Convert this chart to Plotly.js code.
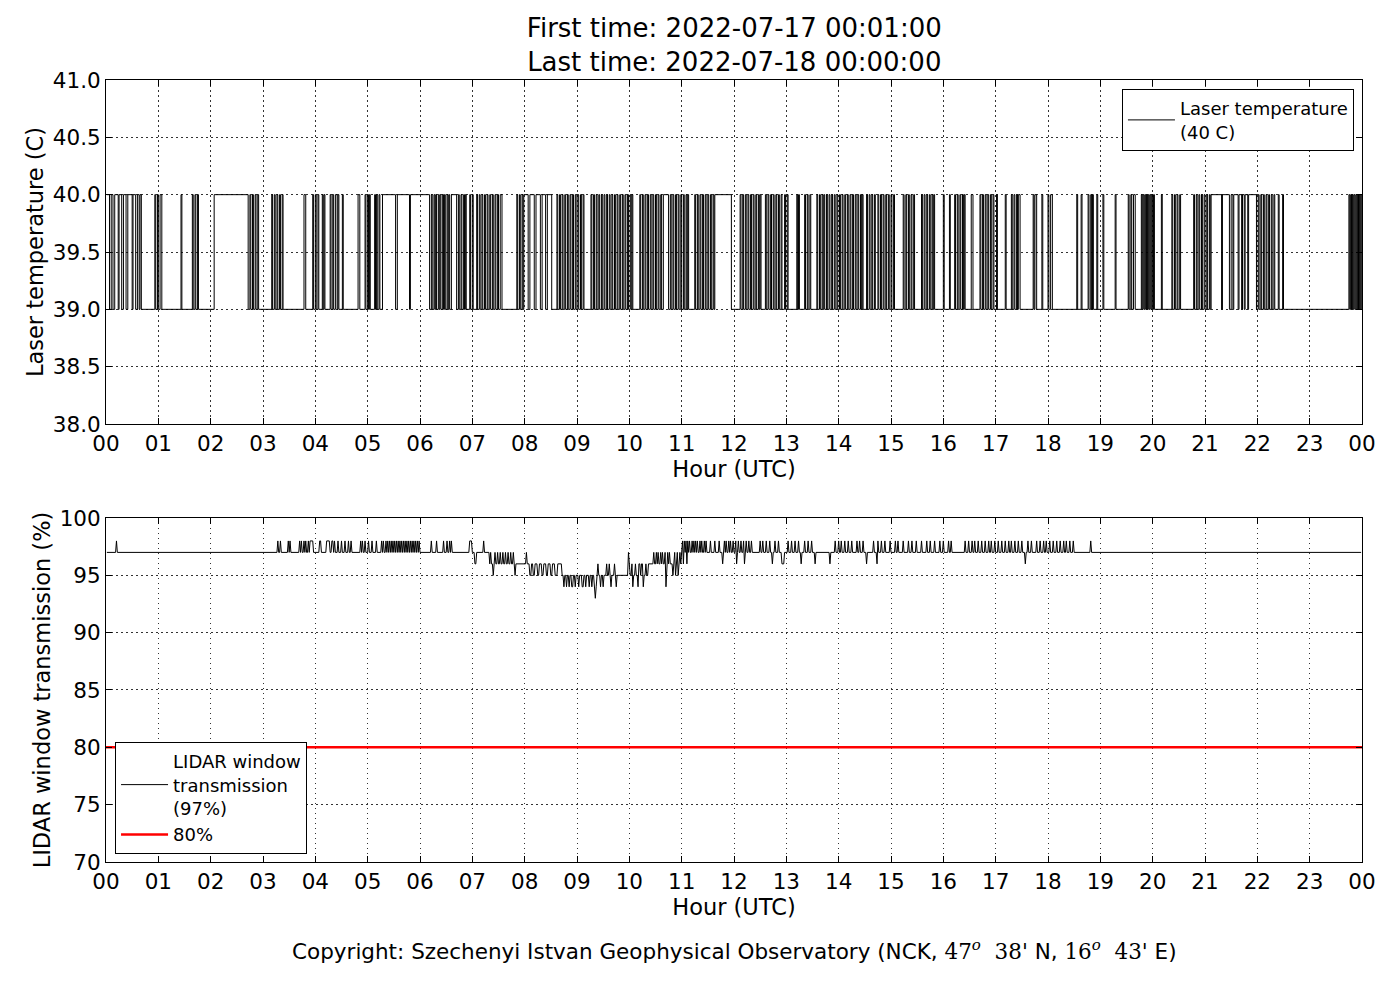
<!DOCTYPE html>
<html>
<head>
<meta charset="utf-8">
<script src="https://cdn.plot.ly/plotly-3.0.1.min.js"></script>
<style>
  body { margin: 0; background: #fff; }
  #chart { width: 1400px; height: 1000px; }
</style>
</head>
<body>
<div id="chart"></div>
<script>
// minutes after 00:00 UTC where the laser reads 40 C (39 C in between)
let laserHigh = [
  [1,4],[6,8],[10,14],[15,18],[20,23],[25,30],[31,34],[36,38],[39,40.5],
  [56,57],[59,60],[62,64],[86,87],[99,100],[102,103],[105,106],
  [124,163],[165,166],[168,169],[171,172],[174,175],
  [190,191],[193,194],[196,197],[199,200],[202,203],
  [227,229],[237,238],[240,241],[243,244],
  [248,249],[250,251],[257,258],[260,261],[263,265],[266,267],[271,272],
  [289,291],[297,298],[300,301],[302,303],[308,309],[310,311],[313,314],
  [317,332],[334,348],[349,371],
  [373,374],[376,377],[378,379],[381,382],[383,384],[386,387],[388,389],[391,392],[393,394],
  [396,402],[404,405],[407,408],[410,411],[412,413],[417,418],[420,421],
  [425,426],[428,429],[431,432],[434,435],[437,438],[440,441],[443,444],[446,447],[449,450],[452,454],
  [471,472],[474,475],[477,478],[479,484],[486,491],[493,498],[500,504],[506,511],
  [517,518],[520,521],[523,524],[526,527],[529,530],[532,533],[535,536],[538,539],[541,542],[544,545],[547,548],
  [556,557],[559,560],[562,563],[565,566],[568,569],[571,572],[574,575],[577,578],[580,581],
  [583,584],[586,587],[589,590],[592,593],[595,596],[598,599],[601,602],[603,604],
  [612,613],[615,616],[618,619],[621,622],[624,625],[627,628],[630,631],[633,634],[636,637],
  [639,645],[647,648],[650,651],[653,654],[656,657],[659,660],[662,663],[665,666],[667,668],
  [675,676],[678,679],[681,682],[684,685],[687,688],[690,691],[693,694],[696,697],[698,717],
  [727,728],[730,731],[733,734],[736,737],[739,740],[742,743],[745,746],[748,749],[750,751],
  [756,757],[759,760],[762,763],[765,766],[768,769],[771,772],[774,775],[778,779],[781,782],
  [792,793],[794,795],[801,802],[804,805],[807,808],[815,816],[818,819],[821,822],[823,824],
  [826,827],[829,830],[832,833],[835,836],[838,839],[841,842],[844,845],[847,848],
  [850,851],[853,854],[856,857],[859,860],[862,863],[865,866],[867,868],
  [872,873],[875,876],[878,879],[881,882],[885,886],[888,889],[891,892],[894,895],[897,898],[900,901],[903,904],
  [914,915],[917,918],[920,921],[923,924],[926,927],
  [935,936],[938,939],[941,942],[944,945],[947,948],[949,950],[960,961],
  [967,968],[973,974],[976,977],[979,980],[982,983],[984,985],[992,994],
  [1002,1003],[1005,1006],[1008,1009],[1011,1012],[1014,1015],[1017,1018],[1021,1022],
  [1031,1032],[1038,1039],[1041,1042],[1044,1045],[1046,1048],
  [1063,1064],[1065,1067],[1073,1074],[1080,1081],[1083,1085],
  [1113,1114],[1118,1119],[1126,1127],[1129,1130],[1131,1132],[1136,1137],[1143,1144],[1157,1158],
  [1172,1173],[1175,1176],[1178,1180],
  [1187,1188],[1189,1190],[1191,1192],[1193,1194],[1195,1196],[1197,1198],[1199,1200],[1201,1202],[1210,1211],
  [1222,1223],[1225,1226],[1228,1229],[1231,1232],
  [1247,1248],[1250,1251],[1253,1254],[1256,1257],[1259,1260],
  [1262,1263],[1265,1266],[1267,1279],[1280,1288],[1290,1292],[1293,1298],[1299,1302],[1303,1305],[1306,1309],[1310,1319],
  [1321,1322],[1324,1325],[1327,1328],[1330,1331],[1333,1334],[1336,1337],[1339,1340],[1344,1345],[1349,1350],
  [1425,1426],[1427,1428],[1429,1430],[1431,1432],[1433,1434],[1435,1436],[1437,1438],[1439,1440]
]

// LIDAR window transmission: [minute where a reading starts, value %]
let winRuns = [
  [1,97],[12,98],[13,97],
  [197,98],[198,97],[200,98],[201,97],[209,98],[210,97],[211,98],[212,97],
  [222,98],[223,97],[224,98],[225,97],[227,98],[228,97],[229,98],[230,97],[232,98],[233,97],
  [234,98],[238,97],[245,98],[247,97],[253,98],[257,97],[259,98],[261,97],
  [262,98],[263,97],[266,98],[267,97],[270,98],[271,97],[274,98],[275,97],[278,98],[279,97],[281,98],[282,97],
  [292,98],[293,97],[294,98],[295,97],[297,98],[298,97],
  [301,98],[302,97],[305,98],[306,97],[310,98],[311,97],[316,98],[317,97],[318,98],[319,97],[321,98],[322,97],[323,98],[324,97],
  [325,98],[326,97],[327,98],[328,97],[329,98],[330,97],[331,98],[332,97],[333,98],[334,97],[335,98],[336,97],
  [337,98],[338,97],[339,98],[340,97],[341,98],[342,97],[343,98],[344,97],[345,98],[346,97],[347,98],[348,97],
  [349,98],[350,97],[351,98],[352,97],[353,98],[354,97],[355,98],[356,97],[357,98],[358,97],[359,98],[360,97],
  [373,98],[374,97],[379,98],[380,97],[387,98],[388,97],[391,98],[392,97],[394,98],[395,97],[396,98],[397,97],
  [417,98],[420,97],[423,96],[425,97],[433,98],[434,97],
  [440,96],[441,97],[442,96],[444,95],[445,96],[446,97],[447,96],[449,97],[450,96],[452,97],[453,96],[455,97],
  [456,96],[458,97],[459,96],[461,97],[462,96],[464,97],[465,96],[467,97],[468,96],[469,95],[470,96],
  [482,97],[483,96],
  [486,95],[488,96],[490,95],[492,96],[495,95],[497,96],[500,95],[502,96],[505,95],[507,96],[510,95],[512,96],[515,95],[518,96],
  [523,95],[525,94],[526,95],[528,94],[529,95],[531,94],[532,95],[534,94],[536,95],[538,94],[539,95],[542,94],
  [543,95],[546,94],[548,95],[550,94],[551,95],[554,94],[555,95],[557,94],[558,95],[560,94],[561,93],[562,94],
  [563,95],[564,96],[565,95],[567,94],[568,95],[570,94],[571,95],[574,96],[575,95],[577,96],[578,95],[579,94],
  [580,95],[583,96],[584,95],[585,94],[586,95],
  [599,97],[600,96],[601,95],[603,96],[604,94],[605,95],[607,96],[608,95],[610,94],[611,96],[613,95],[614,96],
  [616,94],[617,95],[619,96],[620,95],[622,96],
  [628,97],[629,96],[631,97],[632,96],[633,97],[634,96],[636,97],[637,96],[638,97],[639,96],[641,97],[642,94],
  [643,96],[644,97],[645,96],[646,97],[647,96],
  [650,95],[651,96],[652,97],[653,95],[654,96],[655,97],[656,95],[657,96],[658,97],[659,96],
  [660,97],[661,98],[662,96],[663,98],[664,97],[665,98],[666,96],[667,98],[668,97],[669,98],[670,97],
  [672,98],[673,97],[674,98],[675,97],[676,98],[677,97],[678,98],[679,97],[681,98],[682,97],[683,98],[684,97],
  [686,98],[687,97],[688,98],[689,97],[693,98],[694,97],[698,98],[699,97],[703,98],[704,97],
  [707,96],[708,97],[709,98],[710,97],[711,98],[712,97],[714,98],[715,97],[716,98],[717,97],[719,98],[720,97],
  [722,98],[723,96],[724,97],[725,98],[726,97],[728,98],[729,97],[731,98],[732,96],[733,97],[734,98],[735,97],
  [737,98],[738,97],[740,98],[741,97],
  [750,98],[751,97],[753,98],[754,97],[757,98],[758,97],[761,98],[762,97],[764,96],[765,97],[767,98],[768,97],
  [771,98],[772,97],[775,96],[778,97],
  [782,98],[783,97],[786,98],[787,97],[790,98],[791,97],[794,98],[795,97],[797,96],[798,97],[801,98],[802,97],
  [805,98],[806,97],[809,98],[810,97],[813,96],[814,97],[830,96],[831,97],
  [836,98],[837,97],[840,98],[841,97],[843,98],[844,97],[847,98],[848,97],[851,98],[852,97],[855,98],[856,97],
  [861,98],[862,97],[864,98],[865,97],[868,98],[869,97],[872,96],[873,97],
  [880,98],[881,97],[884,96],[885,98],[886,97],[889,98],[890,97],[893,98],[894,97],[899,98],[900,97],
  [905,98],[906,97],[908,98],[909,97],[914,98],[915,97],[920,98],[921,97],[924,98],[925,97],[929,98],[930,97],
  [935,98],[936,97],[941,98],[942,97],[945,98],[946,97],[950,98],[951,97],[956,98],[957,97],[960,98],[961,97],
  [966,98],[967,97],[969,98],[970,97],
  [985,98],[986,97],[989,98],[990,97],[993,98],[994,97],[996,98],[997,97],[1000,98],[1001,97],[1004,98],[1005,97],
  [1008,98],[1009,97],[1012,98],[1013,97],[1015,98],[1016,97],[1019,98],[1020,97],[1023,98],[1024,97],[1027,98],[1028,97],
  [1031,98],[1032,97],[1035,98],[1036,97],[1038,98],[1039,97],[1042,98],[1043,97],[1046,98],[1047,97],[1050,98],[1051,97],
  [1054,96],[1055,97],[1057,98],[1058,97],[1061,98],[1062,97],[1067,98],[1068,97],[1071,98],[1072,97],[1075,98],[1076,97],
  [1078,98],[1079,97],[1082,98],[1083,97],[1086,98],[1087,97],[1090,98],[1091,97],[1094,98],[1095,97],[1098,98],[1099,97],
  [1101,98],[1102,97],[1105,98],[1106,97],[1109,98],[1110,97],[1129,98],[1130,97]
]

let hourTicks = []
let hourLabels = []
for(let h = 0; h <= 24; h++){
  hourTicks.push(h)
  hourLabels.push(String(h % 24).padStart(2, '0'))
}
let laserTicks = [38, 38.5, 39, 39.5, 40, 40.5, 41]
let winTicks = [70, 75, 80, 85, 90, 95, 100]
let winLimit = 80

// build the step line for the laser
let laserX = []
let laserY = []
laserHigh.forEach(([a, b]) => {
  laserX.push(a / 60, b / 60)
  laserY.push(40, 39)
})

// each window reading holds until the minute before the next one
let winX = []
let winY = []
winRuns.forEach(([t, v], i) => {
  let next = i + 1 < winRuns.length ? winRuns[i + 1][0] : 1440
  winX.push(t / 60)
  winY.push(v)
  if(next - 1 > t){
    winX.push((next - 1) / 60)
    winY.push(v)
  }
})

let font = 'DejaVu Sans, sans-serif'
let graph_data = [
  {
    x: laserX, y: laserY, type: 'scatter', mode: 'lines',
    line: {color: 'black', width: 1, shape: 'hv'},
    name: 'Laser temperature<br>(40 C)', xaxis: 'x', yaxis: 'y', legend: 'legend'
  },
  {
    x: winX, y: winY, type: 'scatter', mode: 'lines',
    line: {color: 'black', width: 1},
    name: 'LIDAR window<br>transmission<br>(97%)', xaxis: 'x2', yaxis: 'y2', legend: 'legend2'
  },
  {
    x: [0, 24], y: [winLimit, winLimit], type: 'scatter', mode: 'lines',
    line: {color: '#ff0000', width: 2.5},
    name: '80%', xaxis: 'x2', yaxis: 'y2', legend: 'legend2'
  }
]

let axisStyle = {
  showline: true, mirror: 'allticks', linecolor: 'black', linewidth: 1,
  ticks: 'inside', ticklen: 6, tickcolor: 'black',
  showgrid: true, gridcolor: 'black', griddash: '1.5px,3.5px', gridwidth: 0.8,
  zeroline: false, tickfont: {size: 21.5, color: 'black'}
}
let xStyle = Object.assign({}, axisStyle, {
  range: [0, 24], tickvals: hourTicks, ticktext: hourLabels,
  title: {text: 'Hour (UTC)', font: {size: 22.5}, standoff: 0}
})

var layout = {
  width: 1400, height: 1000,
  paper_bgcolor: 'white', plot_bgcolor: 'white',
  font: {family: font, color: 'black'},
  margin: {l: 106, r: 38, t: 80, b: 138},
  showlegend: true,
  title: {
    text: 'First time: 2022-07-17 00:01:00<br>Last time: 2022-07-18 00:00:00',
    font: {size: 26}, x: 0.5245, xanchor: 'center', y: 0.963, yanchor: 'top', yref: 'container'
  },
  xaxis: Object.assign({}, xStyle, {anchor: 'y'}),
  yaxis: Object.assign({}, axisStyle, {
    domain: [0.5601, 1], range: [38, 41], tickvals: laserTicks, tickformat: '.1f',
    title: {text: 'Laser temperature (C)', font: {size: 22.5}, standoff: 2}
  }),
  xaxis2: Object.assign({}, xStyle, {anchor: 'y2'}),
  yaxis2: Object.assign({}, axisStyle, {
    domain: [0, 0.4399], range: [70, 100], tickvals: winTicks,
    title: {text: 'LIDAR window transmission (%)', font: {size: 22.5}, standoff: 2}
  }),
  legend: {
    x: 0.9936, y: 0.9885, xanchor: 'right', yanchor: 'top', itemwidth: 47,
    bordercolor: 'black', borderwidth: 1, bgcolor: 'white', font: {size: 18}
  },
  legend2: {
    x: 0.0072, y: 0.0102, xanchor: 'left', yanchor: 'bottom', itemwidth: 47,
    bordercolor: 'black', borderwidth: 1, bgcolor: 'white', font: {size: 18}
  },
  annotations: [{
    xref: 'paper', yref: 'paper', x: 0.5, y: -0.1125, xanchor: 'center', yanchor: 'middle',
    showarrow: false, font: {size: 21.5},
    text: "Copyright: Szechenyi Istvan Geophysical Observatory (NCK, " +
      "<span style='font-family:DejaVu Serif'>47<sup><i>o</i></sup>  38'</span> N, " +
      "<span style='font-family:DejaVu Serif'>16<sup><i>o</i></sup>  43'</span> E)"
  }]
}

Plotly.newPlot('chart', graph_data, layout, {staticPlot: true})
</script>
</body>
</html>
